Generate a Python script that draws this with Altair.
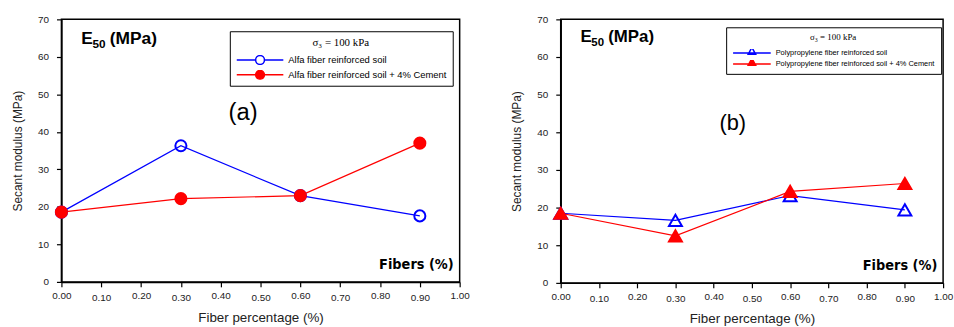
import altair as alt
import pandas as pd

# ---- data ----
fiber = [0.0, 0.3, 0.6, 0.9]
alfa = [18.6, 36.3, 23.0, 17.6]
alfa_cem = [18.6, 22.2, 23.0, 37.0]
pp = [18.5, 16.6, 23.2, 19.4]
pp_cem = [18.5, 12.5, 24.3, 26.4]

labels_a = ["Alfa fiber reinforced soil", "Alfa fiber reinforced soil + 4% Cement"]
labels_b = ["Polypropylene fiber reinforced soil",
            "Polypropylene fiber reinforced soil + 4% Cement"]
legend_title = "σ₃ = 100 kPa"
x_ticks = [0.0, 0.1, 0.2, 0.3, 0.4, 0.5, 0.6, 0.7, 0.8, 0.9, 1.0]
y_ticks = [0, 10, 20, 30, 40, 50, 60, 70]
tags = ["(a)", "(b)"]
tag_pos_a = [0.456, 44.9]
tag_pos_b = [0.45, 42.4]
e50_pos_a = [0.05, 63.5]
e50_pos_b = [0.052, 63.9]
fib_pos = [0.985, 4.5]

BLUE = "#0000ff"
RED = "#ff0000"
SANS = "Liberation Sans"


def make_df(labels, s1, s2):
    rows = []
    for lab, vals in zip(labels, [s1, s2]):
        for f, v in zip(fiber, vals):
            rows.append({"fiber": f, "value": v, "series": lab})
    return pd.DataFrame(rows)


def panel(df, labels, shape, psize, sym_path, sym_size, width, height,
          lx, ly, leg_title_size, leg_label_size, clip_h, row_pad,
          tag, tag_pos, tag_size, e_pos, e_size):
    stroke_scale = alt.Scale(domain=labels, range=[BLUE, RED])
    fill_scale = alt.Scale(domain=labels, range=["transparent", RED])
    legend = alt.Legend(
        title=legend_title, orient="none", legendX=lx, legendY=ly,
        direction="vertical",
        strokeColor="black", fillColor="white", padding=6, cornerRadius=0,
        titleFont="Liberation Serif", titleFontSize=leg_title_size,
        titleFontWeight="normal", titleColor="black", titleAnchor="middle",
        titlePadding=7,
        labelFont=SANS, labelFontSize=leg_label_size, labelColor="black",
        labelOffset=4, labelLimit=400,
        symbolType=sym_path, symbolSize=sym_size, symbolStrokeWidth=1.5,
        symbolOffset=0, rowPadding=row_pad, clipHeight=clip_h,
    )
    x = alt.X("fiber:Q", scale=alt.Scale(domain=[0, 1], nice=False, zero=False),
              axis=alt.Axis(values=x_ticks, format=".2f", labelOverlap=False,
                            labelFlush=False, title="Fiber percentage (%)",
                            labelPadding={"condition": {
                                "test": "round(datum.value * 10) % 2 == 1",
                                "value": 6}, "value": 4}))
    y = alt.Y("value:Q", scale=alt.Scale(domain=[0, 70], nice=False),
              axis=alt.Axis(values=y_ticks, format="d", labelOverlap=False,
                            labelFlush=False, title="Secant modulus (MPa)"))
    base = alt.Chart(df)
    line = base.mark_line(strokeWidth=1.2).encode(
        x=x, y=y,
        stroke=alt.Stroke("series:N", scale=stroke_scale, legend=legend),
    )
    pts = base.mark_point(shape=shape, size=psize, strokeWidth=2, opacity=1).encode(
        x=x, y=y,
        stroke=alt.Stroke("series:N", scale=stroke_scale, legend=legend),
        fill=alt.Fill("series:N", scale=fill_scale, legend=legend),
    )
    tag_df = pd.DataFrame({"fiber": [tag_pos[0]], "value": [tag_pos[1]], "t": [tag]})
    tag_txt = alt.Chart(tag_df).mark_text(
        font=SANS, fontSize=tag_size, color="black", align="center",
        baseline="middle").encode(x=x, y=y, text="t:N")
    e_df = pd.DataFrame({"fiber": [e_pos[0]], "value": [e_pos[1]],
                         "a": ["E"], "b": ["50"], "c": ["(MPa)"]})
    e1 = alt.Chart(e_df).mark_text(
        font=SANS, fontSize=e_size, fontWeight="bold", color="black",
        align="left", baseline="alphabetic").encode(x=x, y=y, text="a:N")
    e2 = alt.Chart(e_df).mark_text(
        font=SANS, fontSize=e_size * 0.68, fontWeight="bold", color="black",
        align="left", baseline="alphabetic", dx=e_size * 0.64, dy=4
    ).encode(x=x, y=y, text="b:N")
    e3 = alt.Chart(e_df).mark_text(
        font=SANS, fontSize=e_size, fontWeight="bold", color="black",
        align="left", baseline="alphabetic", dx=e_size * 1.64
    ).encode(x=x, y=y, text="c:N")
    f_df = pd.DataFrame({"fiber": [fib_pos[0]], "value": [fib_pos[1]],
                         "t": ["Fibers (%)"]})
    fib = alt.Chart(f_df).mark_text(
        font="DejaVu Sans Condensed", fontSize=14.5, fontWeight="bold",
        color="black", align="right", baseline="middle"
    ).encode(x=x, y=y, text="t:N")
    return alt.layer(line, pts, tag_txt, e1, e2, e3, fib).properties(
        width=width, height=height)


circle_path = ("M-1,0L-0.19,0M0.19,0L1,0"
               "M0.19,0A0.19,0.19,0,1,1,-0.19,0A0.19,0.19,0,1,1,0.19,0Z")
tri_path = "M-1,0L1,0M-0.2,0.07L0,-0.3L0.2,0.07Z"

left = panel(make_df(labels_a, alfa, alfa_cem), labels_a, "circle", 125,
             circle_path, 47 * 47, 402, 265, 170, 12, 11, 9.5, 10, 5,
             tags[0], tag_pos_a, 24, e50_pos_a, 17.5)
right = panel(make_df(labels_b, pp, pp_cem), labels_b, "triangle-up", 170,
              tri_path, 38 * 38, 386, 266, 167, 8, 9, 7.5, 8, 3,
              tags[1], tag_pos_b, 22, e50_pos_b, 17)

chart = alt.hconcat(left, right, spacing=40).resolve_scale(
    stroke="independent", fill="independent"
).properties(
    padding={"left": 11, "top": 12, "right": 0, "bottom": 0},
    background="white",
).configure_view(
    stroke="black", strokeWidth=1.5
).configure_axis(
    grid=False, domainColor="black", domainWidth=1.5, tickColor="black",
    tickSize=5, tickWidth=1.2, labelFont=SANS, labelFontSize=10,
    labelColor="#222", titleFont=SANS, titleFontWeight="normal",
    titleColor="#222",
).configure_axisX(
    titleFontSize=13.5, titlePadding=8,
).configure_axisY(
    labelPadding=8, titleFontSize=12, titlePadding=13,
)

chart.save("out.html", embed_options={"renderer": "svg", "actions": False})
